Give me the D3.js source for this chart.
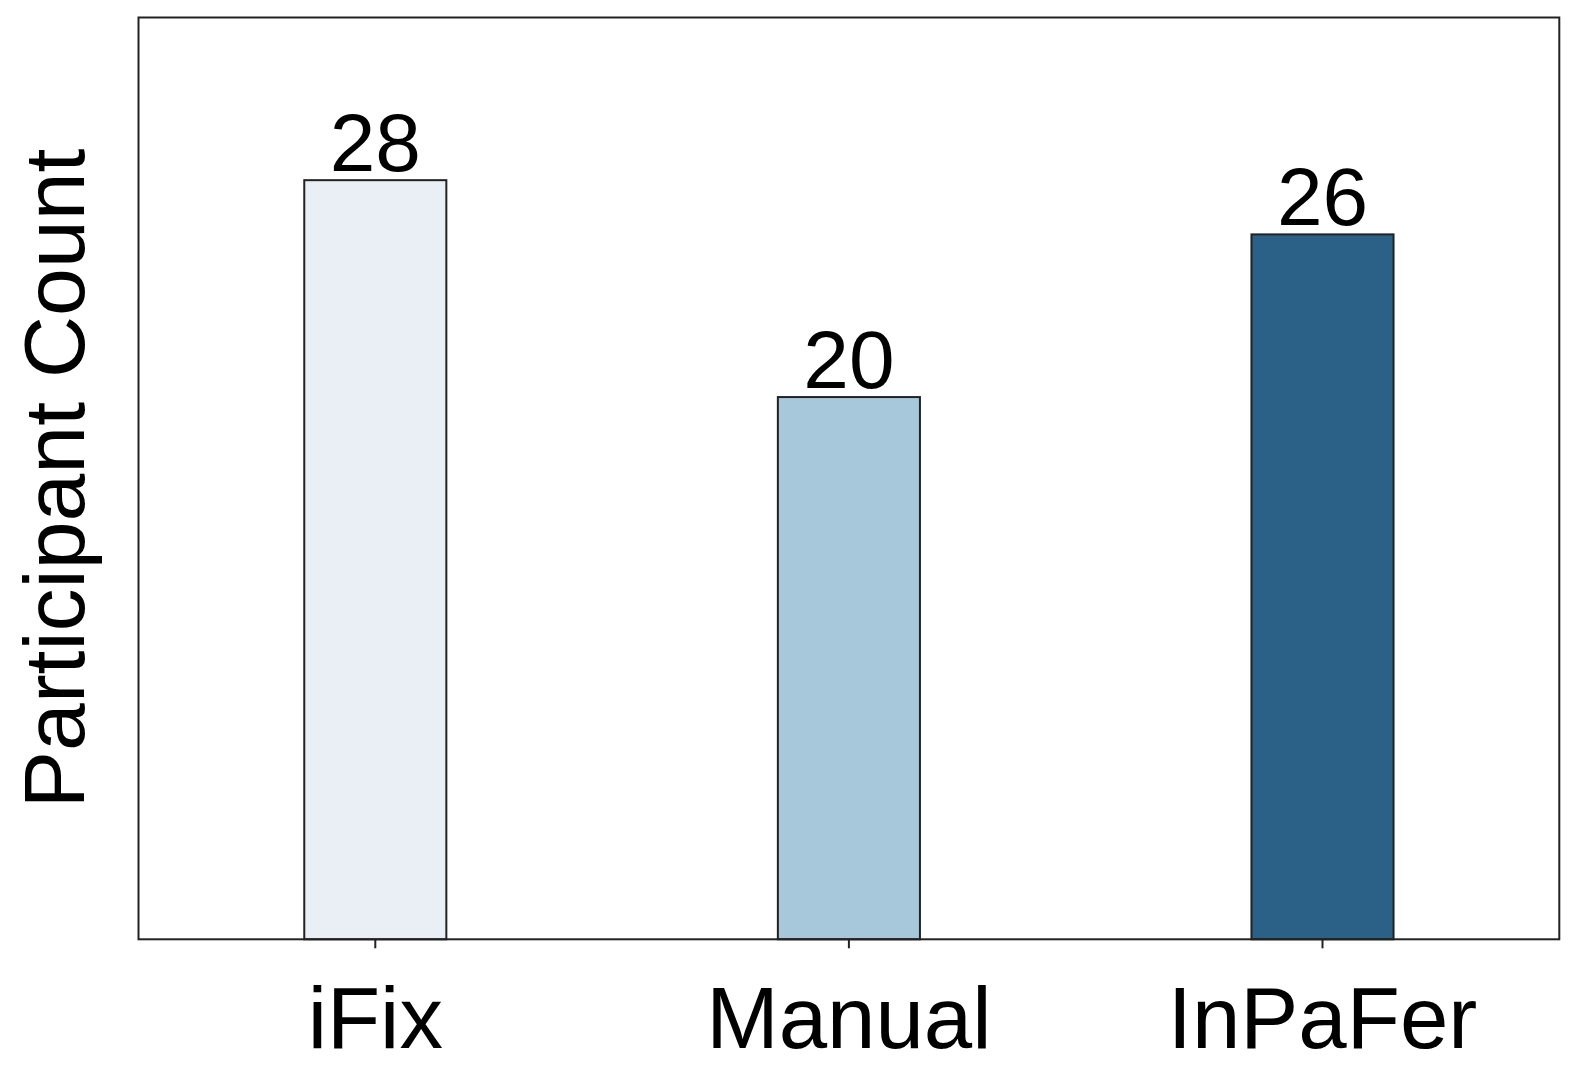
<!DOCTYPE html>
<html>
<head>
<meta charset="utf-8">
<script src="https://cdn.jsdelivr.net/npm/d3@7"></script>
<style>
  html, body { margin: 0; padding: 0; background: #fff; }
  svg { display: block; }
  text { font-family: "Liberation Sans", Arial, Helvetica, sans-serif; fill: #000; }
</style>
</head>
<body>
<svg id="chart" width="1578" height="1086"></svg>
<script>
const categories = ["iFix", "Manual", "InPaFer"];
const counts = [28, 20, 26];
const barColors = ["#e9eff4", "#a7c7da", "#2c6187"];
const yLabel = "Participant Count";

const W = 1578, H = 1086;
const margin = { left: 138.5, right: W - 1559.3, top: 17.5, bottom: H - 939.3 };

const svg = d3.select("#chart");
const x = d3.scaleBand()
  .domain(categories)
  .range([margin.left, W - margin.right])
  .paddingInner(0.7)
  .paddingOuter(0.35);
const y = d3.scaleLinear()
  .domain([0, 34])
  .range([H - margin.bottom, margin.top]);

const data = categories.map((c, i) => ({ c, v: counts[i], col: barColors[i] }));

svg.append("g").selectAll("rect")
  .data(data).join("rect")
  .attr("x", d => x(d.c))
  .attr("y", d => y(d.v))
  .attr("width", x.bandwidth())
  .attr("height", d => y(0) - y(d.v))
  .attr("fill", d => d.col)
  .attr("stroke", "#222")
  .attr("stroke-width", 2);

svg.append("g").selectAll("text")
  .data(data).join("text")
  .attr("x", d => x(d.c) + x.bandwidth() / 2)
  .attr("y", d => y(d.v) - 9)
  .attr("text-anchor", "middle")
  .attr("font-size", 82)
  .text(d => d.v);

// frame
svg.append("rect")
  .attr("x", margin.left).attr("y", margin.top)
  .attr("width", W - margin.left - margin.right)
  .attr("height", H - margin.top - margin.bottom)
  .attr("fill", "none").attr("stroke", "#222").attr("stroke-width", 2);

// x axis
const xAxis = svg.append("g")
  .attr("transform", `translate(0,${H - margin.bottom})`)
  .call(d3.axisBottom(x).tickSize(9).tickPadding(38));
xAxis.select(".domain").remove();
xAxis.selectAll(".tick line").attr("stroke", "#222").attr("stroke-width", 2);
xAxis.selectAll(".tick text")
  .attr("font-size", 87)
  .attr("font-family", "'Liberation Sans', Arial, sans-serif")
  .attr("fill", "#000")
  .attr("dy", "0.71em");

// y label
svg.append("text")
  .attr("transform", `translate(84,${(margin.top + H - margin.bottom) / 2}) rotate(-90)`)
  .attr("text-anchor", "middle")
  .attr("font-size", 86)
  .text(yLabel);
</script>
</body>
</html>
